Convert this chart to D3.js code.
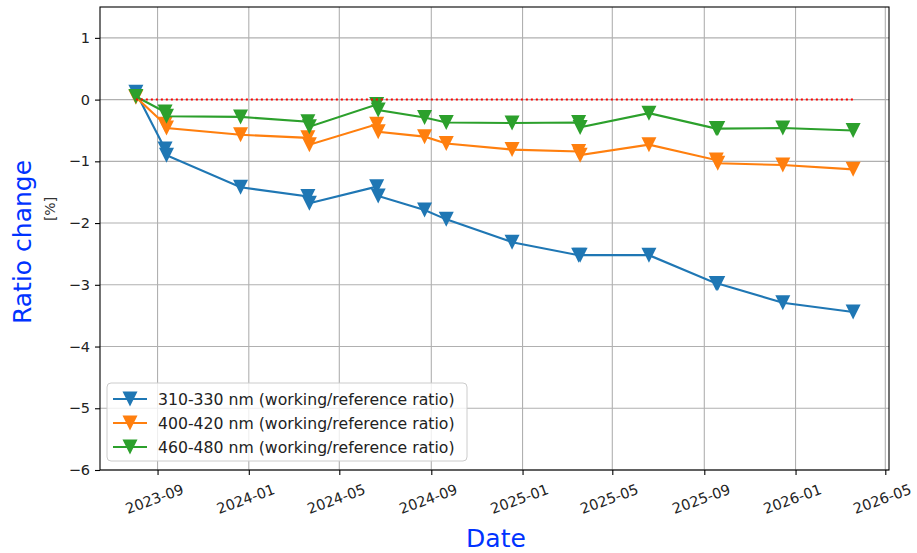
<!DOCTYPE html>
<html lang="en">
<head>
    <meta charset="UTF-8">
    <title>Ratio change</title>
    <style>
        body { margin: 0; background: #fff; }
        text { font-family: "DejaVu Sans", sans-serif; }
    </style>
</head>
<body>
<div id="container"></div>
<script src="https://cdn.jsdelivr.net/npm/d3@7"></script>
<script>
    // measurement dates (some come in close pairs)
    const dates = [
        '2023-08-03',
        '2023-09-11', '2023-09-13',
        '2023-12-21',
        '2024-03-20', '2024-03-22',
        '2024-06-20', '2024-06-22',
        '2024-08-23',
        '2024-09-21',
        '2024-12-18',
        '2025-03-17', '2025-03-19',
        '2025-06-19',
        '2025-09-17', '2025-09-19',
        '2025-12-15',
        '2026-03-19'
    ]

    const blue = [0.12, -0.80, -0.90, -1.42, -1.57, -1.68, -1.41, -1.56, -1.79, -1.94, -2.31, -2.52, -2.52, -2.52, -2.98, -2.98, -3.29, -3.44]
    const orange = [0.04, -0.40, -0.46, -0.57, -0.62, -0.73, -0.40, -0.52, -0.60, -0.71, -0.81, -0.84, -0.90, -0.73, -0.98, -1.03, -1.06, -1.13]
    const green = [0.05, -0.20, -0.27, -0.28, -0.36, -0.44, -0.08, -0.17, -0.29, -0.37, -0.38, -0.37, -0.45, -0.22, -0.47, -0.47, -0.46, -0.50]

    const seriesNames = [
        '310-330 nm (working/reference ratio)',
        '400-420 nm (working/reference ratio)',
        '460-480 nm (working/reference ratio)'
    ]
    const seriesColors = ['#1f77b4', '#ff7f0e', '#2ca02c']
    const yTicks = [1, 0, -1, -2, -3, -4, -5, -6]

    const width = 917
    const height = 553
    const plotLeft = 100
    const plotRight = 889
    const plotTop = 7
    const plotBottom = 470

    const parse = d3.timeParse('%Y-%m-%d')
    const times = dates.map(parse)
    const series = [blue, orange, green].map((vals, i) => ({
        name: seriesNames[i],
        color: seriesColors[i],
        points: vals.map((v, j) => ({t: times[j], v: v}))
    }))

    const tMin = d3.min(times), tMax = d3.max(times)
    const pad = (tMax - tMin) * 0.05
    const x = d3.scaleTime()
        .domain([new Date(+tMin - pad), new Date(+tMax + pad)])
        .range([plotLeft, plotRight])
    const y = d3.scaleLinear().domain([-6, 1.5]).range([plotBottom, plotTop])

    const svg = d3.select('#container').append('svg')
        .attr('width', width)
        .attr('height', height)

    // grid
    const xTicks = d3.timeMonth.every(4).range(x.domain()[0], x.domain()[1])
    const grid = svg.append('g').attr('stroke', '#b0b0b0').attr('stroke-width', 1.1)
    grid.selectAll('.gx').data(xTicks).enter().append('line')
        .attr('x1', d => x(d)).attr('x2', d => x(d))
        .attr('y1', plotTop).attr('y2', plotBottom)
    grid.selectAll('.gy').data(yTicks).enter().append('line')
        .attr('x1', plotLeft).attr('x2', plotRight)
        .attr('y1', d => y(d)).attr('y2', d => y(d))

    // axes
    const fmt = d3.timeFormat('%Y-%m')
    const xAxis = svg.append('g')
        .attr('transform', `translate(0,${plotBottom})`)
        .call(d3.axisBottom(x).tickValues(xTicks).tickSize(5).tickFormat(''))
    xAxis.select('.domain').remove()
    xAxis.selectAll('.tick line').attr('stroke', '#000').attr('stroke-width', 1.1)
    svg.append('g').selectAll('text').data(xTicks).enter().append('text')
        .attr('transform', d => `translate(${x(d) - 3},${plotBottom + 29}) rotate(-20)`)
        .attr('text-anchor', 'middle')
        .attr('dominant-baseline', 'central')
        .attr('font-size', '14.5px')
        .attr('fill', '#222')
        .text(d => fmt(d))

    const yAxis = svg.append('g')
        .attr('transform', `translate(${plotLeft},0)`)
        .call(d3.axisLeft(y).tickValues(yTicks).tickSize(5).tickPadding(5)
            .tickFormat(d => String(d).replace('-', '\u2212')))
    yAxis.select('.domain').remove()
    yAxis.selectAll('.tick line').attr('stroke', '#000').attr('stroke-width', 1.1)
    yAxis.selectAll('.tick text')
        .attr('font-size', '14.5px')
        .attr('font-family', '"DejaVu Sans", sans-serif')
        .attr('fill', '#222')

    // downward triangle marker, as wide as it is tall
    const triDown = {
        draw(ctx, size) {
            const r = Math.sqrt(size) / 2
            ctx.moveTo(0, r)
            ctx.lineTo(-r, -r)
            ctx.lineTo(r, -r)
            ctx.closePath()
        }
    }
    const tri = d3.symbol().type(triDown).size(225)

    // series
    const lineGen = d3.line().x(p => x(p.t)).y(p => y(p.v))
    series.forEach(s => {
        const g = svg.append('g')
        g.append('path')
            .attr('d', lineGen(s.points))
            .attr('fill', 'none')
            .attr('stroke', s.color)
            .attr('stroke-width', 2.1)
        g.selectAll('path.m').data(s.points).enter().append('path')
            .classed('m', true)
            .attr('d', tri)
            .attr('transform', p => `translate(${x(p.t)},${y(p.v)})`)
            .attr('fill', s.color)
    })

    // zero reference
    svg.append('line')
        .attr('x1', x(tMin)).attr('x2', x(tMax))
        .attr('y1', y(0)).attr('y2', y(0))
        .attr('stroke', 'red')
        .attr('stroke-width', 2)
        .attr('stroke-dasharray', '2,3')

    // frame
    svg.append('rect')
        .attr('x', plotLeft).attr('y', plotTop)
        .attr('width', plotRight - plotLeft).attr('height', plotBottom - plotTop)
        .attr('fill', 'none').attr('stroke', '#000').attr('stroke-width', 1.1)

    // legend
    const lg = svg.append('g').attr('transform', 'translate(107,383)')
    lg.append('rect')
        .attr('width', 360).attr('height', 78).attr('rx', 4)
        .attr('fill', 'white').attr('fill-opacity', 0.8)
        .attr('stroke', '#cccccc')
    series.forEach((s, i) => {
        const row = lg.append('g').attr('transform', `translate(0,${16 + i * 24})`)
        row.append('line').attr('x1', 6).attr('x2', 40)
            .attr('stroke', s.color).attr('stroke-width', 2.1)
        row.append('path').attr('d', tri)
            .attr('transform', 'translate(23,0)')
            .attr('fill', s.color)
        row.append('text').attr('x', 51).attr('dominant-baseline', 'central')
            .attr('font-size', '15.7px').attr('fill', '#222')
            .text(s.name)
    })

    // labels
    svg.append('text')
        .attr('transform', 'translate(22,242) rotate(-90)')
        .attr('text-anchor', 'middle').attr('dominant-baseline', 'central')
        .attr('font-family', '"Noto Sans", sans-serif')
        .attr('font-size', '25px').attr('fill', '#0033ff')
        .text('Ratio change')
    svg.append('text')
        .attr('transform', 'translate(50,209) rotate(-90)')
        .attr('text-anchor', 'middle').attr('dominant-baseline', 'central')
        .attr('font-size', '14px').attr('fill', '#333')
        .text('[%]')
    svg.append('text')
        .attr('x', 496).attr('y', 538)
        .attr('text-anchor', 'middle').attr('dominant-baseline', 'central')
        .attr('font-family', '"Noto Sans", sans-serif')
        .attr('font-size', '25px').attr('fill', '#0033ff')
        .text('Date')
</script>
</body>
</html>
